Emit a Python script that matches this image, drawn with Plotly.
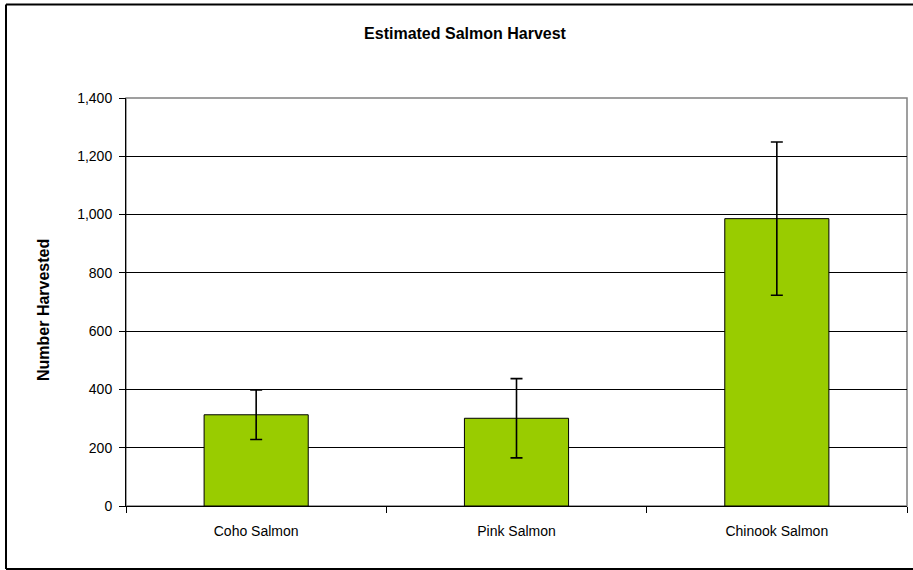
import plotly.graph_objects as go

categories = ["Coho Salmon", "Pink Salmon", "Chinook Salmon"]
harvest = [313, 301, 986]
error = [85, 136, 263]
y_ticks = [0, 200, 400, 600, 800, 1000, 1200, 1400]
y_tick_labels = ["0", "200", "400", "600", "800", "1,000", "1,200", "1,400"]

W, H = 913, 570
L, R, T, B = 126, 6, 98, 64
pw, ph = W - L - R, H - T - B

def px_x(x):
    return (x - L) / pw

def px_y(y):
    return (H - B - y) / ph

fig = go.Figure()
fig.add_trace(go.Bar(
    x=categories, y=harvest,
    marker=dict(color="#99CC00", line=dict(color="#000000", width=1)),
    error_y=dict(type="data", array=error, visible=True, color="#000000",
                 thickness=1.6, width=6),
    showlegend=False,
))

font_family = "Arial, 'Liberation Sans', sans-serif"

border = dict(color="#000000", width=2)
left_x, right_x, top_y, bot_y = px_x(6), px_x(940), px_y(4.5), px_y(569)

fig.update_layout(
    width=W, height=H,
    margin=dict(l=L, r=R, t=T, b=B),
    paper_bgcolor="white", plot_bgcolor="white",
    bargap=0.6,
    font=dict(family=font_family, size=14, color="#000000"),
    title=dict(text="<b>Estimated Salmon Harvest</b>", x=465 / W, xanchor="center",
               y=1 - 33 / H, yanchor="middle",
               font=dict(family=font_family, size=16, color="#000000")),
    xaxis=dict(
        showline=True, linecolor="#000000", linewidth=1,
        ticks="outside", ticklen=6, tickcolor="#000000", tickson="boundaries",
        showgrid=False, tickfont=dict(size=14), ticklabelstandoff=12,
    ),
    yaxis=dict(
        range=[0, 1400], tickvals=y_ticks, ticktext=y_tick_labels,
        showline=True, linecolor="#000000", linewidth=1,
        ticks="outside", ticklen=6, tickcolor="#000000",
        showgrid=True, gridcolor="#000000", gridwidth=1,
        zeroline=False, tickfont=dict(size=14), ticklabelstandoff=4,
    ),
    shapes=[
        dict(type="rect", xref="paper", yref="paper", x0=0, x1=1, y0=0, y1=1,
             line=dict(color="#808080", width=1.5), layer="below"),
        dict(type="line", xref="paper", yref="paper",
             x0=left_x, x1=left_x, y0=bot_y, y1=top_y, line=border),
        dict(type="line", xref="paper", yref="paper",
             x0=left_x, x1=right_x, y0=top_y, y1=top_y, line=border),
        dict(type="line", xref="paper", yref="paper",
             x0=left_x, x1=right_x, y0=bot_y, y1=bot_y, line=border),
    ],
    annotations=[
        dict(text="<b>Number Harvested</b>", xref="paper", yref="paper",
             x=px_x(43), y=px_y(310), textangle=-90, showarrow=False,
             xanchor="center", yanchor="middle",
             font=dict(family=font_family, size=16, color="#000000")),
    ],
)

fig.write_html("out.html", config={"displayModeBar": False},
               post_script="document.body.style.margin='0';document.body.style.overflow='hidden';")
